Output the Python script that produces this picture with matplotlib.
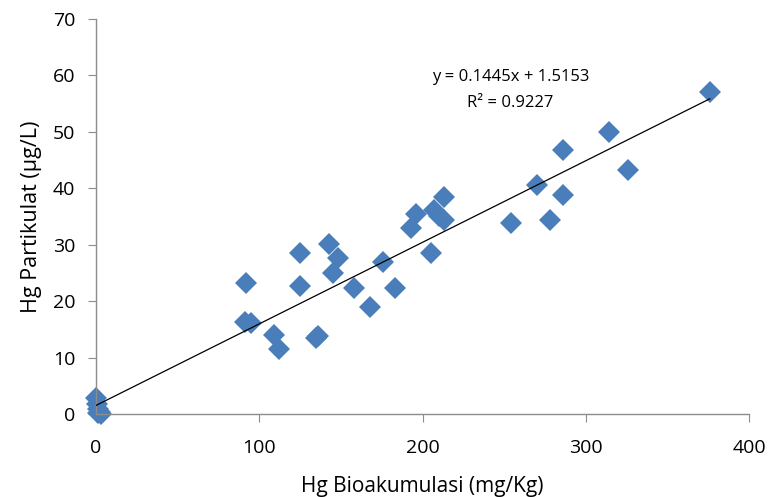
import matplotlib.pyplot as plt
import numpy as np

# Hg bioakumulasi (mg/Kg) vs Hg partikulat (ug/L)
hg_bio = [0, 0.5, 1, 2.5, 3, 1.5,
          91, 95, 92, 109, 112, 125, 125, 135, 136,
          143, 145, 148, 158, 168, 176, 183,
          193, 196, 205, 207, 210, 213, 213,
          254, 270, 278, 286, 286, 314, 326, 376]
hg_part = [2.9, 1.8, 0.8, 0.3, 0.0, 0.2,
           16.3, 16.1, 23.2, 14.0, 11.5, 28.5, 22.6, 13.4, 13.9,
           30.2, 24.9, 27.6, 22.3, 19.0, 27.0, 22.3,
           33.0, 35.4, 28.6, 36.1, 35.0, 38.5, 34.4,
           33.9, 40.6, 34.3, 46.7, 38.8, 49.9, 43.2, 57.1]
slope = 0.1445
intercept = 1.5153
r2 = 0.9227

plt.rcParams['font.family'] = ['Open Sans', 'DejaVu Sans']

fig = plt.figure(figsize=(7.71, 4.97), dpi=100)
ax = fig.add_axes([0.1245, 0.167, 0.847, 0.795])

ax.plot(hg_bio, hg_part, 'D', color='#4A7EBB', markersize=11.5, markeredgewidth=0,
        zorder=2, clip_on=False)

xl = np.array([0, max(hg_bio)])
ax.plot(xl, slope * xl + intercept, color='black', lw=0.9, zorder=3)

ax.text(254, 57.4, 'y = %.4fx + %.4f\nR² = %.4f' % (slope, intercept, r2),
        ha='center', va='center', fontsize=12, linespacing=1.8)

ax.set_xlim(0, 400)
ax.set_ylim(0, 70)
ax.set_xticks(np.arange(0, 401, 100))
ax.set_yticks(np.arange(0, 71, 10))

for s in ['top', 'right']:
    ax.spines[s].set_visible(False)
for s in ['left', 'bottom']:
    ax.spines[s].set_color('#8c8c8c')
    ax.spines[s].set_linewidth(1)
ax.tick_params(direction='out', length=6, color='#8c8c8c', labelsize=14)
ax.tick_params(axis='y', pad=9)
ax.tick_params(axis='x', pad=12)

ax.set_xlabel('Hg Bioakumulasi (mg/Kg)', fontsize=15, labelpad=14)
ax.set_ylabel('Hg Partikulat (µg/L)', fontsize=15.5, labelpad=8)

fig.savefig('out.png', dpi=100)
